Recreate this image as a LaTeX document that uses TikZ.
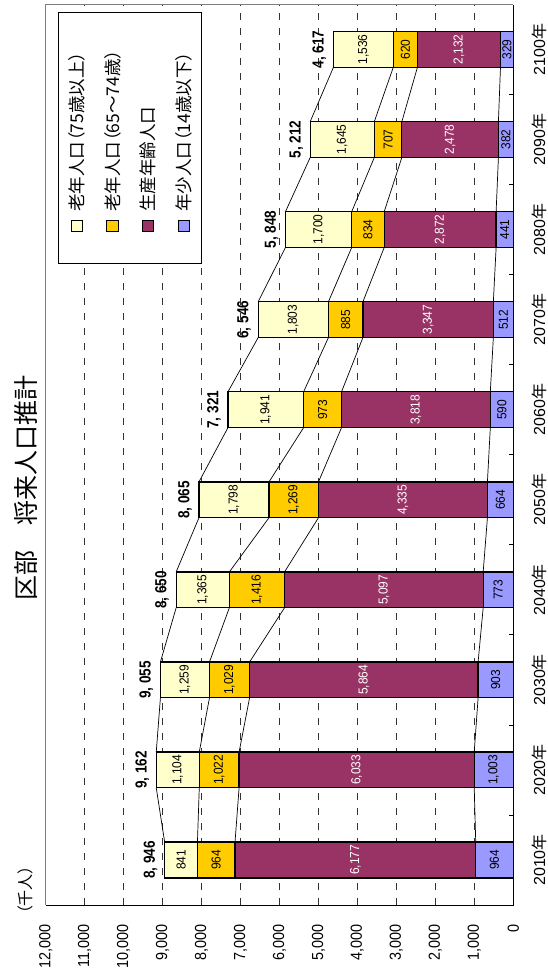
\documentclass[tikz,border=0pt]{standalone}
\usepackage{fontspec}
\setmainfont{Liberation Sans}
\newfontfamily\jp{Noto Sans CJK JP}
\newfontfamily\jpp[RawFeature=+palt]{Noto Sans CJK JP}
\definecolor{cyoung}{HTML}{9999FF}
\definecolor{cwork}{HTML}{993366}
\definecolor{cmid}{HTML}{FFCC00}
\definecolor{cold}{HTML}{FFFFCC}
\newcommand\fs[1]{\fontsize{#1}{#1}\selectfont}
\newcommand\thou[1]{\ifnum#1<1000 #1\else\pgfmathtruncatemacro\thA{#1/1000}\pgfmathtruncatemacro\thB{#1-1000*\thA}\thA,\ifnum\thB<100 0\fi\ifnum\thB<10 0\fi\thB\fi}
\tikzset{
  gridline/.style={draw=black!80, line width=0.8pt, dash pattern=on 7pt off 8pt},
  seg/.style={draw=black, line width=1.3pt},
  sline/.style={draw=black, line width=0.7pt},
  vlab/.style={rotate=90, inner sep=0pt, font=\fs{13}},
  totlab/.style={rotate=90, inner sep=0pt, anchor=south, font=\bfseries\fs{16}},
  yearlab/.style={rotate=90, inner sep=0pt, font=\fs{16}},
  ticklab/.style={rotate=90, inner sep=0pt, anchor=east, font=\fs{16}},
  legtext/.style={rotate=90, inner sep=0pt, anchor=west, font=\jpp\fs{17.5}},
  legbox/.style={draw=black, line width=0.8pt},
}
\begin{document}
\begin{tikzpicture}[x=1pt,y=-1pt]
\useasboundingbox (0,0) rectangle (548,978);
% gridlines
\foreach \k in {1,...,11}{
  \draw[gridline] ({513.3-\k*38.967},905) -- ({513.3-\k*38.967},4.5);
}
% frame
\draw[draw=black!50, line width=1pt] (45.7,905) -- (45.7,4.5) -- (513.3,4.5);
\draw[draw=black, line width=1pt] (45.7,905) -- (513.3,905) -- (513.3,4.5);
\foreach \k in {1,...,9}{
  \draw[line width=0.8pt] (513.3,{905-\k*90.05}) -- (509.3,{905-\k*90.05});
}
% tick labels
\foreach \k in {0,...,12}{
  \pgfmathtruncatemacro\vv{\k*1000}
  \node[ticklab] (tk\k) at ({513.3-\k*38.967},924) {\scalebox{0.9}[1]{\thou{\vv}}};
}
% bars
\foreach \i/\ya/\yw/\ym/\yo/\tot in {
0/964/6177/964/841/{8, 946},
1/1003/6033/1022/1104/{9, 162},
2/903/5864/1029/1259/{9, 055},
3/773/5097/1416/1365/{8, 650},
4/664/4335/1269/1798/{8, 065},
5/590/3818/973/1941/{7, 321},
6/512/3347/885/1803/{6, 546},
7/441/2872/834/1700/{5, 848},
8/382/2478/707/1645/{5, 212},
9/329/2132/620/1536/{4, 617}}{
  \pgfmathsetmacro\yc{905-(\i+0.5)*90.05}
  \pgfmathsetmacro\yt{\yc-17.9}
  \pgfmathsetmacro\yb{\yc+17.9}
  \pgfmathsetmacro\xa{513.3-\ya*0.038967}
  \pgfmathsetmacro\xb{513.3-(\ya+\yw)*0.038967}
  \pgfmathsetmacro\xc{513.3-(\ya+\yw+\ym)*0.038967}
  \pgfmathsetmacro\xd{513.3-(\ya+\yw+\ym+\yo)*0.038967}
  \draw[seg, fill=cyoung] (513.3,\yt) rectangle (\xa,\yb);
  \draw[seg, fill=cwork] (\xa,\yt) rectangle (\xb,\yb);
  \draw[seg, fill=cmid] (\xb,\yt) rectangle (\xc,\yb);
  \draw[seg, fill=cold] (\xc,\yt) rectangle (\xd,\yb);
  \node[vlab] (va\i) at ({(513.3+\xa)/2},\yc) {\scalebox{0.92}[1]{\thou{\ya}}};
  \node[vlab, text=white] (vw\i) at ({(\xa+\xb)/2},\yc) {\scalebox{0.92}[1]{\thou{\yw}}};
  \node[vlab] (vm\i) at ({(\xb+\xc)/2},\yc) {\scalebox{0.92}[1]{\thou{\ym}}};
  \node[vlab] (vo\i) at ({(\xc+\xd)/2},\yc) {\scalebox{0.92}[1]{\thou{\yo}}};
  \coordinate (t\i-1) at (\xa,\yt); \coordinate (b\i-1) at (\xa,\yb);
  \coordinate (t\i-2) at (\xb,\yt); \coordinate (b\i-2) at (\xb,\yb);
  \coordinate (t\i-3) at (\xc,\yt); \coordinate (b\i-3) at (\xc,\yb);
  \coordinate (t\i-4) at (\xd,\yt); \coordinate (b\i-4) at (\xd,\yb);
  \node[totlab] (tot\i) at ({\xd-7},\yc) {\scalebox{0.85}[1]{\tot}};
  \pgfmathtruncatemacro\yr{2010+10*\i}
  \node[yearlab] (yr\i) at (539,\yc) {\yr{\jp 年}};
}
% series lines
\foreach \i in {0,...,8}{
  \pgfmathtruncatemacro\nn{\i+1}
  \foreach \j in {1,...,4}{
    \draw[sline] (t\i-\j) -- (b\nn-\j);
  }
}
% legend
\draw[legbox, fill=white] (58.3,12) rectangle (201.7,263.3);
\foreach \n/\cx/\col/\txt in {1/76.7/cold/老年人口（75歳以上）,2/112.5/cmid/老年人口（65～74歳）,3/148.3/cwork/生産年齢人口,4/184.3/cyoung/年少人口（14歳以下）}{
  \draw[draw=black, line width=0.9pt, fill=\col] ({\cx-5.6},220) rectangle ({\cx+5.6},231.2);
  \node[legtext] (lg\n) at (\cx,212) {\txt};
}
% title and unit
\node[rotate=90, inner sep=0pt, font=\jp\fs{25}] (title) at (25.5,488) {区部　将来人口推計};
\node[rotate=90, inner sep=0pt, font=\jpp\fs{16}] (unit) at (25.5,890) {（千人）};
\end{tikzpicture}
\end{document}
